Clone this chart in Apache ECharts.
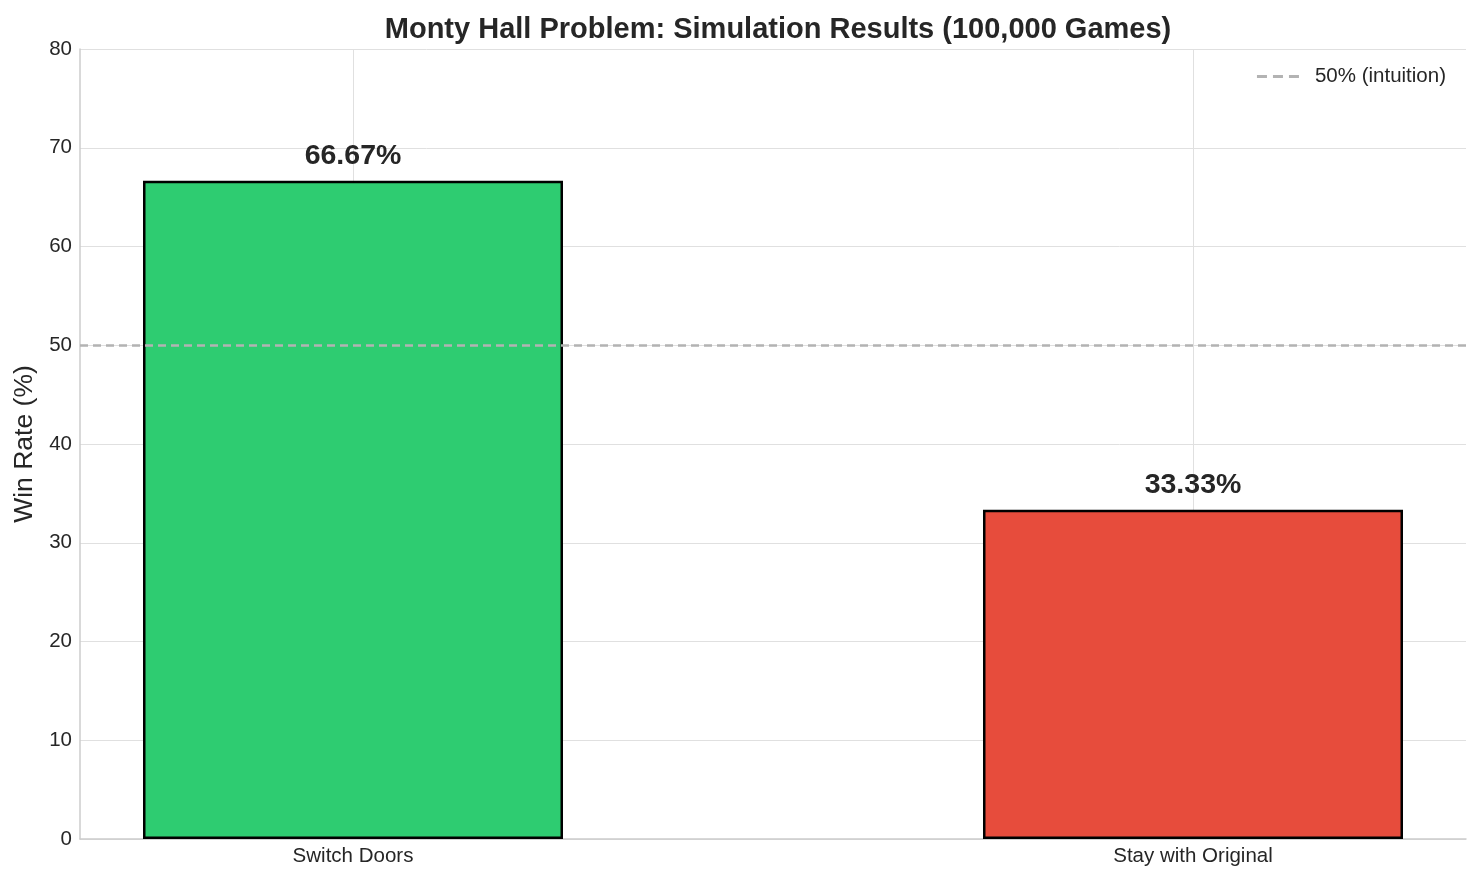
<!DOCTYPE html>
<html>
<head>
<meta charset="utf-8">
<script src="https://cdn.jsdelivr.net/npm/echarts@6/dist/echarts.min.js"></script>
<style>html,body{margin:0;padding:0;background:#fff;}#c{width:1480px;height:881px;}</style>
</head>
<body>
<div id="c"></div>
<script>
const categories = ["Switch Doors", "Stay with Original"];
const winRates = [66.67, 33.33];
const barColors = ["#2ecc71", "#e74c3c"];
const referenceLine = 50;
const referenceName = "50% (intuition)";
const yTicks = [0, 10, 20, 30, 40, 50, 60, 70, 80];

const FONT = "'Liberation Sans', Arial, sans-serif";
const chart = echarts.init(document.getElementById('c'), null, {renderer: 'canvas'});
const positions = categories.map((c, i) => i);

chart.setOption({
  animation: false,
  backgroundColor: '#ffffff',
  textStyle: {fontFamily: FONT},
  title: {
    text: 'Monty Hall Problem: Simulation Results (100,000 Games)',
    left: 773, top: 10, textAlign: 'center',
    textStyle: {fontFamily: FONT, fontSize: 29, fontWeight: 'bold', color: '#262626'}
  },
  legend: {
    right: 29, top: 61,
    itemWidth: 42, itemHeight: 14, itemGap: 10,
    itemStyle: {opacity: 0},
    lineStyle: {color: '#b3b3b3', width: 3, type: [10, 6]},
    textStyle: {fontFamily: FONT, fontSize: 20.5, color: '#262626', padding: [0, 0, 0, 11]},
    data: [referenceName]
  },
  grid: {left: 80, right: 14, top: 49, bottom: 42, containLabel: false},
  xAxis: {
    type: 'value', min: -0.325, max: 1.325,
    axisLine: {show: true, onZero: false, lineStyle: {color: '#cccccc', width: 1.5}},
    axisTick: {show: false, customValues: positions},
    axisLabel: {
      customValues: positions, fontFamily: FONT, fontSize: 20.5, color: '#262626', margin: 7,
      formatter: v => categories[Math.round(v)] || ''
    },
    splitLine: {show: true, lineStyle: {color: '#e0e0e0', width: 1}}
  },
  yAxis: {
    type: 'value', min: yTicks[0], max: yTicks[yTicks.length - 1], interval: 10,
    name: 'Win Rate (%)', nameLocation: 'middle', nameGap: 42,
    nameTextStyle: {fontFamily: FONT, fontSize: 26.5, color: '#262626'},
    axisLine: {show: true, onZero: false, lineStyle: {color: '#cccccc', width: 1.5}},
    axisTick: {show: false},
    axisLabel: {fontFamily: FONT, fontSize: 20.5, color: '#262626', margin: 8},
    splitLine: {show: true, lineStyle: {color: '#e0e0e0', width: 1}}
  },
  series: [
    {
      type: 'bar', z: 3,
      barWidth: 420,
      data: winRates.map((v, i) => ({
        value: [positions[i], v],
        itemStyle: {color: barColors[i], borderColor: '#000000', borderWidth: 2.5}
      })),
      label: {
        show: true, position: 'top', distance: 10,
        fontFamily: FONT, fontSize: 28.5, fontWeight: 'bold', color: '#262626',
        formatter: p => p.value[1].toFixed(2) + '%'
      }
    },
    {
      name: referenceName, type: 'line', data: [], symbol: 'none', z: 5,
      lineStyle: {color: '#b3b3b3', width: 2.5, type: [8, 5]},
      itemStyle: {color: '#b3b3b3'},
      markLine: {
        silent: true, symbol: 'none', label: {show: false},
        lineStyle: {color: '#b3b3b3', width: 2.5, type: [8, 5]},
        data: [{yAxis: referenceLine}]
      }
    }
  ]
});
</script>
</body>
</html>
